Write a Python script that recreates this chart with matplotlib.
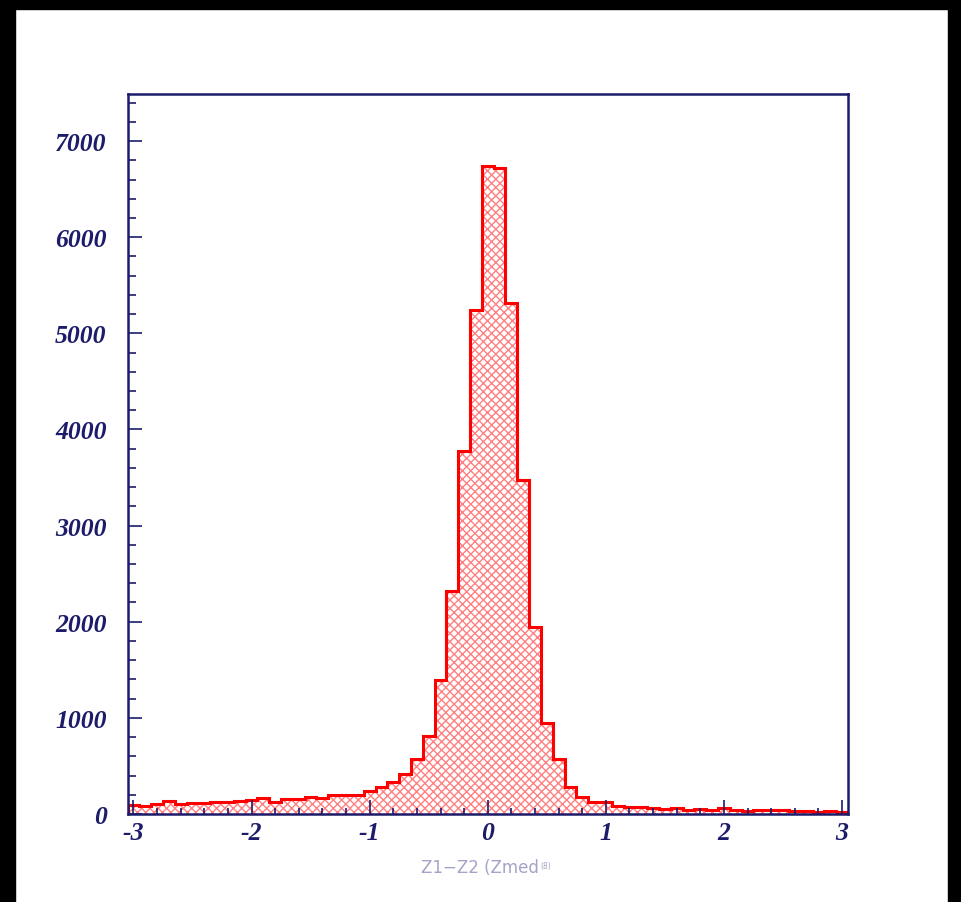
import matplotlib
matplotlib.use('Agg')
import matplotlib.pyplot as plt
from matplotlib.patches import Rectangle
from matplotlib.ticker import MultipleLocator
import numpy as np

# bin centres (step 0.1) and counts
centres = [round(-3.0 + 0.1 * i, 1) for i in range(61)]
counts = [94, 80, 104, 132, 104, 114, 114, 121, 121, 132,
          146, 166, 125, 160, 160, 180, 163, 201, 201, 201,
          236, 284, 336, 416, 572, 810, 1394, 2323, 3772, 5240,
          6743, 6724, 5314, 3478, 1945, 950, 572, 284, 173, 128,
          121, 80, 69, 69, 62, 52, 59, 45, 52, 45,
          59, 42, 35, 42, 45, 38, 35, 35, 24, 28,
          21]
x_ticks = [-3, -2, -1, 0, 1, 2, 3]
y_ticks = [0, 1000, 2000, 3000, 4000, 5000, 6000, 7000]
xlabel = 'Z1\u2212Z2 (Zmed'

navy = '#1c1c6a'
plt.rcParams['hatch.linewidth'] = 1.0

fig = plt.figure(figsize=(9.61, 9.03), dpi=100)
ax = fig.add_axes([0.1327, 0.0975, 0.7497, 0.7968])

width = 0.1
edges = np.append(np.array(centres) - width / 2, centres[-1] + width / 2)

# hatched fill, then the outline on top
ax.stairs(counts, edges, fill=True, facecolor='white', edgecolor='#ff8080',
          hatch='xxxx', linewidth=0)
ax.stairs(counts, edges, color='#ff0000', linewidth=2.2, baseline=0)

ax.set_xlim(-3.05, 3.05)
ax.set_ylim(0, 7485)
ax.set_xticks(x_ticks)
ax.set_yticks(y_ticks)
ax.set_xticklabels([str(t) for t in x_ticks])
ax.set_yticklabels([str(t) for t in y_ticks])
ax.xaxis.set_minor_locator(MultipleLocator(0.2))
ax.yaxis.set_minor_locator(MultipleLocator(200))

for s in ax.spines.values():
    s.set_color(navy)
    s.set_linewidth(1.8)

ax.tick_params(axis='both', which='both', direction='in', color=navy,
               top=False, right=False, width=1.2)
ax.tick_params(axis='x', which='major', length=10, pad=5)
ax.tick_params(axis='x', which='minor', length=4)
ax.tick_params(axis='y', which='major', length=10, pad=15)
ax.tick_params(axis='y', which='minor', length=6)

for lab in ax.get_xticklabels() + ax.get_yticklabels():
    lab.set_family('Liberation Serif')
    lab.set_style('italic')
    lab.set_weight('bold')
    lab.set_fontsize(18.5)
    lab.set_color(navy)

fig.text(0.438, 0.0385, xlabel, fontsize=12, color='#a3a3c8',
         family='DejaVu Sans', ha='left', va='center')
fig.text(0.5625, 0.0405, '(8)', fontsize=5.5, color='#a3a3c8',
         family='DejaVu Sans', ha='left', va='center')

# black border strips of the screenshot
fig.patches.append(Rectangle((0, 0), 15 / 961, 1, transform=fig.transFigure,
                             color='black', zorder=10))
fig.patches.append(Rectangle((0, 1 - 10 / 903), 1, 10 / 903,
                             transform=fig.transFigure, color='black', zorder=10))
fig.patches.append(Rectangle((1 - 13 / 961, 0), 13 / 961, 1,
                             transform=fig.transFigure, color='black', zorder=10))

fig.savefig('out.png', dpi=100)
